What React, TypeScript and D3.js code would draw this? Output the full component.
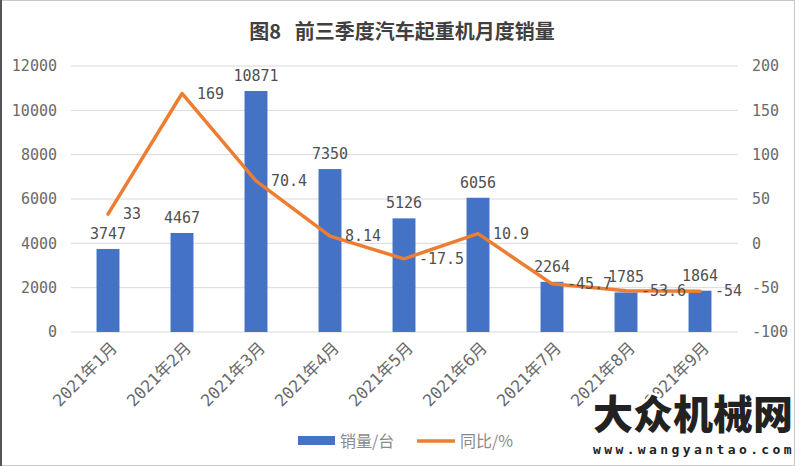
import React from 'react';
import * as d3 from 'd3';

const months = ['2021年1月', '2021年2月', '2021年3月', '2021年4月', '2021年5月', '2021年6月', '2021年7月', '2021年8月', '2021年9月'];
const sales = [3747, 4467, 10871, 7350, 5126, 6056, 2264, 1785, 1864];
const yoy = [33, 169, 70.4, 8.14, -17.5, 10.9, -45.7, -53.6, -54];
const leftTicks = [0, 2000, 4000, 6000, 8000, 10000, 12000];
const rightTicks = [-100, -50, 0, 50, 100, 150, 200];

const W = 800;
const H = 466;
const BLUE = '#4472C4';
const ORANGE = '#ED7D31';
const MONO = '"DejaVu Sans Mono", "Noto Sans CJK SC", monospace';
const CJK = '"Noto Sans CJK SC", sans-serif';

export default function App() {
  // plot area
  const x = d3.scaleBand<string>().domain(months).range([71, 737]).paddingInner(0.69).paddingOuter(0.345);
  const yL = d3.scaleLinear().domain([0, 12000]).range([332, 66]);
  const yR = d3.scaleLinear().domain([-100, 200]).range([332, 66]);
  const cx = (m: string) => (x(m) || 0) + x.bandwidth() / 2;

  const line = d3.line<number>()
    .x((_, i) => cx(months[i]))
    .y(d => yR(d));

  return (
    <svg width={W} height={H} style={{ position: 'absolute', left: 0, top: 0, background: '#fff' }}>
      <rect x={0.5} y={0.5} width={W - 6} height={H - 1} fill="#fff" stroke="#c8c8c8" />
      <line x1={1} x2={1} y1={0} y2={H} stroke="#555" strokeWidth={2} />

      {/* title */}
      <text x={402} y={39} textAnchor="middle" fontFamily={CJK} fontWeight="bold" fontSize={20} fill="#404040">
        {'图8\u00a0\u00a0\u00a0前三季度汽车起重机月度销量'}
      </text>

      {/* gridlines */}
      {leftTicks.map(t => (
        <line key={t} x1={71} x2={738} y1={yL(t)} y2={yL(t)} stroke="#d9d9d9" strokeWidth={1} />
      ))}

      {/* left axis */}
      {leftTicks.map(t => (
        <text key={'l' + t} x={57} y={yL(t)} dy="0.35em" textAnchor="end" fontFamily={MONO} fontSize={15} fill="#6a6a6a">
          {t}
        </text>
      ))}
      {/* right axis */}
      {rightTicks.map(t => (
        <text key={'r' + t} x={752} y={yR(t)} dy="0.35em" textAnchor="start" fontFamily={MONO} fontSize={15} fill="#6a6a6a">
          {t}
        </text>
      ))}

      {/* bars */}
      {sales.map((v, i) => (
        <rect key={'b' + i} x={x(months[i])} y={yL(v)} width={x.bandwidth()} height={yL(0) - yL(v)} fill={BLUE} />
      ))}
      {sales.map((v, i) => (
        <text key={'bl' + i} x={cx(months[i])} y={yL(v) - 10} textAnchor="middle" fontFamily={MONO} fontSize={15} fill="#505050">
          {v}
        </text>
      ))}

      {/* line */}
      <path d={line(yoy) || ''} fill="none" stroke={ORANGE} strokeWidth={3.5} strokeLinejoin="round" strokeLinecap="round" />
      {yoy.map((v, i) => (
        <text key={'ll' + i} x={cx(months[i]) + 15} y={yR(v)} dy="0.35em" textAnchor="start" fontFamily={MONO} fontSize={15} fill="#505050">
          {v}
        </text>
      ))}

      {/* x labels */}
      {months.map(m => (
        <text key={'x' + m} transform={`translate(${cx(m) + 6},${345}) rotate(-45)`} dy="0.35em" textAnchor="end" fontFamily={MONO} fontSize={16.5} fill="#6a6a6a">
          {m}
        </text>
      ))}

      {/* legend */}
      <rect x={298} y={436} width={37} height={9} fill={BLUE} />
      <text x={340} y={441} dy="0.35em" fontFamily={CJK} fontSize={16} fill="#8a8a8a">销量/台</text>
      <line x1={417} x2={455} y1={441} y2={441} stroke={ORANGE} strokeWidth={3.5} />
      <text x={460} y={441} dy="0.35em" fontFamily={CJK} fontSize={16} fill="#8a8a8a">同比/%</text>

      {/* watermark */}
      <text x={693} y={429} textAnchor="middle" fontFamily={CJK} fontWeight="900" fontSize={40} fill="#222"
        stroke="#fff" strokeWidth={5} paintOrder="stroke">
        大众机械网
      </text>
      <text x={694} y={454} textAnchor="middle" fontFamily={MONO} fontWeight="bold" fontSize={13} fill="#222" letterSpacing={3.4}
        stroke="#fff" strokeWidth={4} paintOrder="stroke">
        www.wangyantao.com
      </text>
    </svg>
  );
}
